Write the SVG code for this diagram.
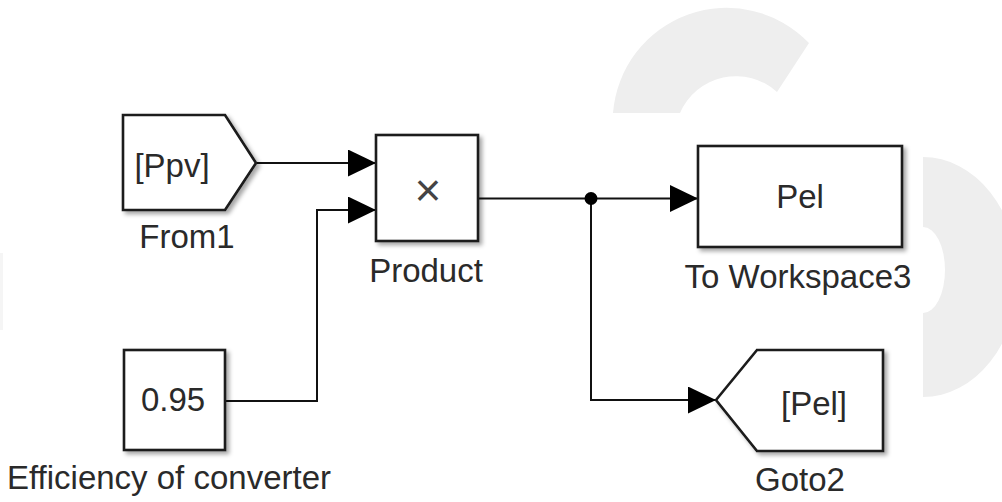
<svg xmlns="http://www.w3.org/2000/svg" width="1002" height="502" viewBox="0 0 1002 502">
  <defs>
    <style>
      .blk { fill: #ffffff; stroke: #1a1a1a; stroke-width: 2.6; stroke-linejoin: miter; filter: url(#shadow); }
      .txt { font-family: "Liberation Sans", Arial, sans-serif; font-size: 33px; fill: #2a2a2a; text-anchor: middle; }
      .wire { fill: none; stroke: #111111; stroke-width: 2; }
      .mark { fill: #eeeeee; }
    </style>
    <filter id="shadow" x="-10%" y="-10%" width="130%" height="130%">
      <feDropShadow dx="3" dy="3" stdDeviation="2" flood-color="#000000" flood-opacity="0.35"/>
    </filter>
    <marker id="arrow" markerUnits="userSpaceOnUse" markerWidth="28" markerHeight="27" viewBox="0 0 27 26" refX="27" refY="13" orient="auto">
      <path d="M0,0 L27,13 L0,26 Z" fill="#000000"/>
    </marker>
  </defs>

  <rect x="0" y="0" width="1002" height="502" fill="#ffffff"/>

  <!-- background emblem -->
  <g id="emblem">
    <path class="mark" d="M613,113 A114,114 0 0 1 809,43 L777,92 A61,61 0 0 0 680,113 Z"/>
    <path class="mark" d="M923,157 A95,120 0 0 1 923,397 L923,313 A22,43 0 0 0 923,227 Z"/>
    <rect x="0" y="253" width="3" height="77" fill="#f5f5f5"/>
  </g>

  <!-- signal lines -->
  <g id="connectors">
    <path class="wire" d="M256,163 L376,163" marker-end="url(#arrow)"/>
    <path class="wire" d="M225,401 L317,401 L317,210 L376,210" marker-end="url(#arrow)"/>
    <path class="wire" d="M478,198.5 L698,198.5" marker-end="url(#arrow)"/>
    <path class="wire" d="M591,198.5 L591,400 L716,400" marker-end="url(#arrow)"/>
    <circle cx="591" cy="198.5" r="6.5" fill="#000000"/>
  </g>

  <g id="from1">
    <path class="blk" d="M123,115 L225,115 L256,163 L225,210 L123,210 Z"/>
    <text class="txt" x="172" y="177">[Ppv]</text>
    <text class="txt" x="187" y="248">From1</text>
  </g>

  <g id="efficiency">
    <rect class="blk" x="124" y="350" width="101" height="100"/>
    <text class="txt" x="173" y="411">0.95</text>
    <text class="txt" x="169" y="489">Efficiency of converter</text>
  </g>

  <g id="product">
    <rect class="blk" x="376" y="135" width="102" height="106"/>
    <text class="txt" x="428" y="206" style="font-size:46px;font-weight:300;fill:#444444">×</text>
    <text class="txt" x="426" y="282">Product</text>
  </g>

  <g id="toworkspace3">
    <rect class="blk" x="698" y="146" width="204" height="101"/>
    <text class="txt" x="800" y="208">Pel</text>
    <text class="txt" x="798" y="288">To Workspace3</text>
  </g>

  <g id="goto2">
    <path class="blk" d="M716,400 L757,350 L883,350 L883,451 L757,451 Z"/>
    <text class="txt" x="814" y="415">[Pel]</text>
    <text class="txt" x="800" y="491">Goto2</text>
  </g>
</svg>
